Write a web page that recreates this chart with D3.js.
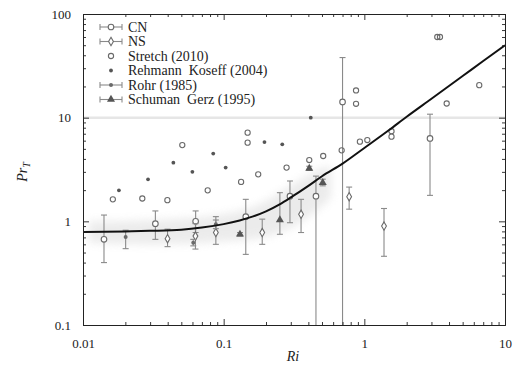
<!DOCTYPE html>
<html>
<head>
<meta charset="utf-8">
<script src="https://cdn.jsdelivr.net/npm/d3@7"></script>
<style>
  html, body { margin: 0; padding: 0; background: #fff; }
  svg { display: block; }
  text { font-family: "Liberation Serif", "DejaVu Serif", serif; fill: #222; }
</style>
</head>
<body>
<svg id="chart" width="518" height="376"></svg>
<script>
// ---- data ----
// fitted curve Pr_T(Ri)
const fitRi = [0.01, 0.02, 0.03, 0.05, 0.07, 0.1, 0.13, 0.16, 0.2, 0.25, 0.3, 0.4, 0.5, 0.7, 1, 1.5, 2, 3, 5, 7, 10];
const fitPr = [0.79, 0.80, 0.81, 0.83, 0.87, 0.94, 1.02, 1.11, 1.25, 1.46, 1.70, 2.2, 2.72, 3.6, 5.1, 7.6, 10.2, 15.2, 25.2, 35.2, 50];

// spread of the simulation cloud around the curve
const cloudRi = [0.011, 0.02, 0.05, 0.1, 0.15, 0.2, 0.3, 0.4, 0.5, 0.58];
const cloudLo = [0.62, 0.6, 0.6, 0.64, 0.66, 0.7, 0.85, 1.1, 1.4, 1.7];
const cloudHi = [1.0, 1.0, 1.05, 1.15, 1.3, 1.55, 2.2, 2.8, 3.3, 3.4];

// CN
const cnRi = [0.0141, 0.0327, 0.0632, 0.1436, 0.296, 0.453, 0.70, 2.93];
const cnPr = [0.67, 0.95, 1.00, 1.11, 1.75, 1.75, 14.2, 6.3];
const cnLo = [0.40, 0.67, 0.78, 0.48, 0.97, 0.05, 0.05, 1.78];
const cnHi = [1.15, 1.26, 1.26, 1.63, 2.45, 2.73, 38, 10.8];

// NS
const nsRi = [0.0399, 0.063, 0.088, 0.188, 0.355, 0.78, 1.38];
const nsPr = [0.68, 0.72, 0.78, 0.78, 1.17, 1.73, 0.90];
const nsLo = [0.57, 0.54, 0.60, 0.60, 0.78, 1.31, 0.46];
const nsHi = [0.84, 0.95, 1.11, 1.05, 1.63, 2.14, 1.33];

// Stretch (2010)
const stretchRi = [0.0163, 0.0264, 0.0398, 0.0508, 0.077, 0.133, 0.148, 0.148, 0.176, 0.28, 0.406, 0.51, 0.69, 0.873, 0.873, 0.93, 1.05, 1.56, 1.56, 3.3, 3.45, 3.85, 6.56];
const stretchPr = [1.63, 1.66, 1.6, 5.44, 1.99, 2.4, 7.17, 5.74, 2.84, 3.3, 3.9, 4.27, 4.84, 18.3, 13.6, 5.87, 6.08, 7.4, 6.56, 60, 60, 13.7, 20.6];

// Rehmann & Koseff (2004)
const rehmannRi = [0.018, 0.029, 0.0439, 0.0599, 0.0843, 0.1033, 0.195, 0.261, 0.416];
const rehmannPr = [1.99, 2.54, 3.68, 3.0, 4.5, 3.3, 5.82, 5.53, 10];

// Rohr (1985)
const rohrRi = [0.0201, 0.0608, 0.088];
const rohrPr = [0.706, 0.62, 0.935];
const rohrLo = [0.545, 0.58, 0.85];
const rohrHi = [0.82, 0.67, 1.03];

// Schuman & Gerz (1995)
const schumanRi = [0.1306, 0.251, 0.406, 0.506];
const schumanPr = [0.75, 1.03, 3.24, 2.36];
const schumanLo = [0.72, 0.75, 3.1, 2.2];
const schumanHi = [0.78, 1.89, 3.4, 2.55];

const xTickLabels = ["0.01", "0.1", "1", "10"];
const yTickLabels = ["0.1", "1", "10", "100"];
const legendLabels = ["CN", "NS", "Stretch (2010)", "Rehmann  Koseff (2004)", "Rohr (1985)", "Schuman  Gerz (1995)"];

// ---- layout ----
const svg = d3.select("#chart");
const padL = 83, padR = 505, padT = 14, padB = 325;
const x = d3.scaleLog().domain([0.01, 10]).range([padL, padR]);
const y = d3.scaleLog().domain([0.1, 100]).range([padB, padT]);
const barGrey = "#8a8a8a";
const markGrey = "#6a6a6a";

const defs = svg.append("defs");
defs.append("clipPath").attr("id", "plot")
  .append("rect").attr("x", padL).attr("y", padT).attr("width", padR - padL).attr("height", padB - padT);
defs.append("filter").attr("id", "soft")
  .attr("x", "-20%").attr("y", "-50%").attr("width", "140%").attr("height", "200%")
  .append("feGaussianBlur").attr("stdDeviation", 4);

const plot = svg.append("g").attr("clip-path", "url(#plot)");

// faint reference line at Pr_T = 10
plot.append("line")
  .attr("x1", padL).attr("x2", padR).attr("y1", y(10)).attr("y2", y(10))
  .attr("stroke", "#e6e6e6").attr("stroke-width", 2.5);

// simulation cloud
const cloud = cloudRi.map((r, i) => ({ r, lo: cloudLo[i], hi: cloudHi[i] }));
plot.append("path")
  .datum(cloud)
  .attr("d", d3.area().curve(d3.curveBasis).x(d => x(d.r)).y0(d => y(d.lo)).y1(d => y(d.hi)))
  .attr("fill", "#d4d4d4").attr("opacity", 0.45).attr("filter", "url(#soft)");

// error-bar series helper
function errorSeries(ri, pr, lo, hi, marker) {
  const data = ri.map((r, i) => ({ r, p: pr[i], lo: lo[i], hi: hi[i] }));
  const g = plot.append("g");
  const cap = 3;
  data.forEach(d => {
    const cx = x(d.r);
    const y0 = Math.min(y(d.lo), padB + 5), y1 = y(d.hi);
    g.append("line").attr("x1", cx).attr("x2", cx).attr("y1", y0).attr("y2", y1)
      .attr("stroke", barGrey).attr("stroke-width", 1.1);
    [y1, y0].forEach(yy => g.append("line")
      .attr("x1", cx - cap).attr("x2", cx + cap).attr("y1", yy).attr("y2", yy)
      .attr("stroke", barGrey).attr("stroke-width", 1.1));
    marker(g, cx, y(d.p));
  });
}

const circleMarker = (g, cx, cy) => g.append("circle").attr("cx", cx).attr("cy", cy).attr("r", 2.8)
  .attr("fill", "#fff").attr("stroke", markGrey).attr("stroke-width", 1.1);
const diamondMarker = (g, cx, cy) => g.append("path")
  .attr("d", d3.symbol(d3.symbolDiamond, 20)()).attr("transform", `translate(${cx},${cy})`)
  .attr("fill", "#fff").attr("stroke", markGrey).attr("stroke-width", 1.1);
const dotMarker = (g, cx, cy) => g.append("circle").attr("cx", cx).attr("cy", cy).attr("r", 2)
  .attr("fill", markGrey);
const triMarker = (g, cx, cy) => g.append("path")
  .attr("d", d3.symbol(d3.symbolTriangle, 28)()).attr("transform", `translate(${cx},${cy})`)
  .attr("fill", "#555");
const smallCircle = (g, cx, cy) => g.append("circle").attr("cx", cx).attr("cy", cy).attr("r", 2.6)
  .attr("fill", "none").attr("stroke", markGrey).attr("stroke-width", 1.1);
const starDot = (g, cx, cy) => g.append("circle").attr("cx", cx).attr("cy", cy).attr("r", 1.9)
  .attr("fill", "#555");

errorSeries(cnRi, cnPr, cnLo, cnHi, circleMarker);
errorSeries(nsRi, nsPr, nsLo, nsHi, diamondMarker);
errorSeries(rohrRi, rohrPr, rohrLo, rohrHi, dotMarker);
errorSeries(schumanRi, schumanPr, schumanLo, schumanHi, triMarker);

const gs = plot.append("g");
stretchRi.forEach((r, i) => smallCircle(gs, x(r), y(stretchPr[i])));
const gr = plot.append("g");
rehmannRi.forEach((r, i) => starDot(gr, x(r), y(rehmannPr[i])));

// fitted curve
plot.append("path")
  .datum(fitRi.map((r, i) => [r, fitPr[i]]))
  .attr("d", d3.line().curve(d3.curveMonotoneX).x(d => x(d[0])).y(d => y(d[1])))
  .attr("fill", "none").attr("stroke", "#111").attr("stroke-width", 2);

// ---- axes (inward ticks on all four sides) ----
const xMajor = xTickLabels.map(Number), yMajor = yTickLabels.map(Number);
const xMinor = x.ticks().filter(v => !xMajor.some(m => Math.abs(m - v) / m < 1e-6));
const yMinor = y.ticks().filter(v => !yMajor.some(m => Math.abs(m - v) / m < 1e-6));

function styleAxis(g) {
  g.select(".domain").attr("stroke", "#222").attr("stroke-width", 1);
  g.selectAll(".tick line").attr("stroke", "#222").attr("stroke-width", 0.9);
  g.selectAll("text").attr("font-size", 13).attr("font-family", "Liberation Serif, serif").attr("fill", "#222");
}

svg.append("g").attr("transform", `translate(0,${padB})`)
  .call(d3.axisBottom(x).tickValues(xMajor).tickFormat((d, i) => xTickLabels[i])
    .tickSizeInner(-6).tickSizeOuter(0).tickPadding(14)).call(styleAxis);
svg.append("g").attr("transform", `translate(0,${padB})`)
  .call(d3.axisBottom(x).tickValues(xMinor).tickFormat("").tickSizeInner(-3).tickSizeOuter(0)).call(styleAxis);
svg.append("g").attr("transform", `translate(0,${padT})`)
  .call(d3.axisTop(x).tickValues(xMajor).tickFormat("").tickSizeInner(-6).tickSizeOuter(0)).call(styleAxis);
svg.append("g").attr("transform", `translate(0,${padT})`)
  .call(d3.axisTop(x).tickValues(xMinor).tickFormat("").tickSizeInner(-3).tickSizeOuter(0)).call(styleAxis);

svg.append("g").attr("transform", `translate(${padL},0)`)
  .call(d3.axisLeft(y).tickValues(yMajor).tickFormat((d, i) => yTickLabels[i])
    .tickSizeInner(-6).tickSizeOuter(0).tickPadding(12)).call(styleAxis);
svg.append("g").attr("transform", `translate(${padL},0)`)
  .call(d3.axisLeft(y).tickValues(yMinor).tickFormat("").tickSizeInner(-3).tickSizeOuter(0)).call(styleAxis);
svg.append("g").attr("transform", `translate(${padR},0)`)
  .call(d3.axisRight(y).tickValues(yMajor).tickFormat("").tickSizeInner(-6).tickSizeOuter(0)).call(styleAxis);
svg.append("g").attr("transform", `translate(${padR},0)`)
  .call(d3.axisRight(y).tickValues(yMinor).tickFormat("").tickSizeInner(-3).tickSizeOuter(0)).call(styleAxis);

// axis titles
svg.append("text").attr("x", 293).attr("y", 361).attr("text-anchor", "middle")
  .attr("font-size", 14).attr("font-style", "italic").text("Ri");
const yt = svg.append("text").attr("transform", "translate(27,172) rotate(-90)")
  .attr("text-anchor", "middle").attr("font-size", 14).attr("font-style", "italic");
yt.append("tspan").text("Pr");
yt.append("tspan").attr("font-size", 10).attr("dy", 3).text("T");

// ---- legend ----
const leg = svg.append("g");
const legY0 = 27, legStep = 14.5, symX = 111, textX = 128;
const legendMarkers = [circleMarker, diamondMarker, smallCircle, starDot, dotMarker, triMarker];
const legendBars = [true, true, false, false, true, true];
legendLabels.forEach((lab, i) => {
  const cy = legY0 + i * legStep;
  if (legendBars[i]) {
    leg.append("line").attr("x1", symX - 11).attr("x2", symX + 11).attr("y1", cy).attr("y2", cy)
      .attr("stroke", barGrey).attr("stroke-width", 1.1);
    [symX - 11, symX + 11].forEach(xx => leg.append("line")
      .attr("x1", xx).attr("x2", xx).attr("y1", cy - 3).attr("y2", cy + 3)
      .attr("stroke", barGrey).attr("stroke-width", 1.1));
  }
  legendMarkers[i](leg, symX, cy);
  leg.append("text").attr("x", textX).attr("y", cy + 4.5).attr("font-size", 14)
    .style("white-space", "pre").text(lab);
});
</script>
</body>
</html>
